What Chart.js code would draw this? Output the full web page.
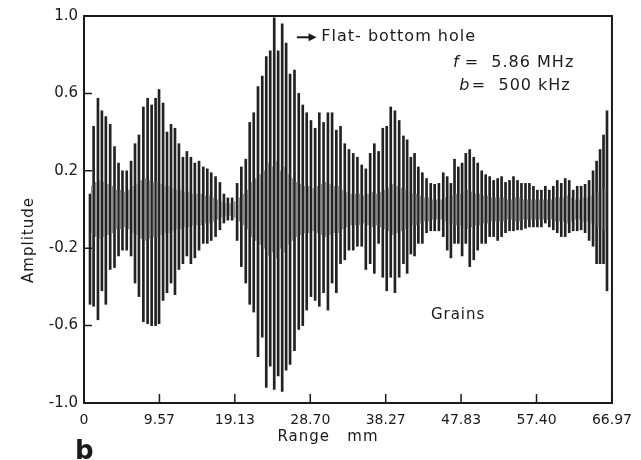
<!DOCTYPE html>
<html>
<head>
<meta charset="utf-8">
<script src="https://cdn.jsdelivr.net/npm/chart.js@4.4.1/dist/chart.umd.min.js"></script>
<style>
  body { margin: 0; background: #fff; }
  canvas { display: block; }
</style>
</head>
<body>
<canvas id="chart" width="641" height="460"></canvas>
<script>
// range of each echo stroke (mm) and its upper / lower amplitude
const range = [
  0.76, 1.22, 1.77, 2.27, 2.77, 3.32, 3.87, 4.38, 4.88, 5.42, 5.97, 6.47, 6.97, 7.53, 8.07, 8.58, 9.08,
  9.52, 10.03, 10.53, 11.04, 11.54, 12.04, 12.55, 13.05, 13.56, 14.06, 14.59, 15.13, 15.64, 16.14, 16.69, 17.24, 17.75, 18.25, 18.79,
  19.42, 19.96, 20.52, 21.02, 21.53, 22.07, 22.61, 23.12, 23.62, 24.13, 24.63, 25.14, 25.64, 26.14, 26.70, 27.24, 27.75, 28.25, 28.79,
  29.32, 29.85, 30.39, 30.94, 31.47, 32.01, 32.54, 33.08, 33.61, 34.15, 34.68, 35.23, 35.75, 36.30, 36.83, 37.37, 37.90,
  38.40, 38.91, 39.44, 39.98, 40.52, 40.99, 41.46, 41.93, 42.41, 42.92, 43.45, 43.98, 44.48, 45.02, 45.57, 46.07, 46.54, 47.00, 47.48, 47.96,
  48.43, 48.93, 49.44, 49.94, 50.45, 50.95, 51.46, 51.96, 52.47, 52.97, 53.47, 53.98, 54.48, 54.99, 55.49, 56.00, 56.50, 57.01, 57.51,
  58.02, 58.52, 59.02, 59.53, 60.03, 60.54, 61.04, 61.55, 62.05, 62.56, 63.06, 63.56, 64.07, 64.57, 65.02, 65.46, 65.90, 66.34
];
const upper = [
  0.08, 0.43, 0.575, 0.51, 0.48, 0.44, 0.325, 0.24, 0.20, 0.20, 0.25, 0.34, 0.385, 0.53, 0.575, 0.54, 0.575,
  0.62, 0.55, 0.40, 0.44, 0.42, 0.34, 0.27, 0.30, 0.27, 0.24, 0.25, 0.22, 0.21, 0.19, 0.17, 0.14, 0.08, 0.06, 0.06,
  0.135, 0.22, 0.26, 0.45, 0.50, 0.635, 0.69, 0.79, 0.82, 0.99, 0.82, 0.96, 0.86, 0.70, 0.72, 0.60, 0.54, 0.50, 0.46,
  0.42, 0.50, 0.45, 0.50, 0.50, 0.41, 0.43, 0.34, 0.31, 0.29, 0.27, 0.23, 0.21, 0.29, 0.34, 0.30, 0.42,
  0.43, 0.53, 0.51, 0.46, 0.38, 0.36, 0.27, 0.29, 0.22, 0.19, 0.16, 0.135, 0.13, 0.135, 0.19, 0.17, 0.135, 0.26, 0.22, 0.24,
  0.29, 0.31, 0.27, 0.24, 0.20, 0.18, 0.17, 0.15, 0.16, 0.17, 0.14, 0.15, 0.17, 0.15, 0.135, 0.135, 0.135, 0.12, 0.10,
  0.10, 0.12, 0.10, 0.12, 0.15, 0.135, 0.16, 0.15, 0.10, 0.12, 0.12, 0.13, 0.15, 0.20, 0.25, 0.31, 0.385, 0.51
];
const lower = [
  -0.49, -0.50, -0.57, -0.42, -0.49, -0.31, -0.30, -0.24, -0.21, -0.21, -0.24, -0.38, -0.45, -0.58, -0.59, -0.60, -0.60,
  -0.59, -0.47, -0.43, -0.38, -0.44, -0.31, -0.28, -0.24, -0.28, -0.25, -0.21, -0.175, -0.175, -0.16, -0.14, -0.105, -0.07, -0.055, -0.055,
  -0.16, -0.295, -0.38, -0.49, -0.53, -0.76, -0.66, -0.92, -0.81, -0.93, -0.86, -0.94, -0.83, -0.80, -0.73, -0.62, -0.60, -0.52, -0.45,
  -0.47, -0.50, -0.43, -0.52, -0.38, -0.43, -0.28, -0.26, -0.21, -0.21, -0.19, -0.19, -0.31, -0.28, -0.33, -0.175, -0.35,
  -0.42, -0.35, -0.43, -0.35, -0.28, -0.33, -0.23, -0.24, -0.175, -0.175, -0.12, -0.11, -0.11, -0.11, -0.14, -0.21, -0.25, -0.175, -0.175, -0.24,
  -0.175, -0.295, -0.26, -0.21, -0.175, -0.175, -0.14, -0.14, -0.16, -0.14, -0.12, -0.11, -0.11, -0.105, -0.105, -0.097, -0.09, -0.09, -0.09,
  -0.09, -0.07, -0.09, -0.105, -0.12, -0.14, -0.14, -0.12, -0.11, -0.11, -0.105, -0.12, -0.16, -0.19, -0.28, -0.28, -0.28, -0.42
];
// grain noise between the strokes (half height)
const noise = [
  0.12, 0.14, 0.15, 0.14, 0.13, 0.12, 0.10, 0.10, 0.09, 0.10, 0.12, 0.13, 0.15, 0.16, 0.15, 0.14, 0.14,
  0.13, 0.12, 0.12, 0.11, 0.10, 0.10, 0.09, 0.09, 0.08, 0.08, 0.08, 0.07, 0.07, 0.06, 0.05, 0.04, 0.03, 0.03, 0.04,
  0.06, 0.08, 0.10, 0.14, 0.16, 0.18, 0.20, 0.24, 0.22, 0.25, 0.20, 0.22, 0.18, 0.16, 0.14, 0.13, 0.12, 0.12, 0.11,
  0.12, 0.13, 0.14, 0.13, 0.12, 0.12, 0.10, 0.09, 0.08, 0.08, 0.08, 0.07, 0.08, 0.09, 0.08, 0.09, 0.10,
  0.11, 0.13, 0.12, 0.11, 0.10, 0.09, 0.08, 0.08, 0.07, 0.06, 0.06, 0.05, 0.05, 0.05, 0.06, 0.07, 0.07, 0.08, 0.08, 0.09,
  0.10, 0.09, 0.08, 0.08, 0.07, 0.07, 0.06, 0.06, 0.06, 0.06, 0.05, 0.05, 0.06, 0.06, 0.05, 0.05, 0.05, 0.05, 0.05,
  0.05, 0.05, 0.05, 0.06, 0.06, 0.06, 0.07, 0.06, 0.05, 0.05, 0.06, 0.06, 0.07, 0.08, 0.09, 0.10, 0.11
];

const xTicks = [0, 9.57, 19.13, 28.70, 38.27, 47.83, 57.40, 66.97];
const xTickLabels = ['0', '9.57', '19.13', '28.70', '38.27', '47.83', '57.40', '66.97'];
const yTicks = [-1.0, -0.6, -0.2, 0.2, 0.6, 1.0];
const yTickLabels = ['-1.0', '-0.6', '-0.2', '0.2', '0.6', '1.0'];

const ink = '#1a1a1a';
const font = 'DejaVu Sans';

const strokes = range.map((x, i) => ({ x: x, y: [lower[i], upper[i]] }));
const grain = noise.map((n, i) => ({ x: (range[i] + range[i + 1]) / 2, y: [-n, n] }));

function nearest(list, labels, v) {
  let best = 0;
  list.forEach((t, i) => { if (Math.abs(t - v) < Math.abs(list[best] - v)) best = i; });
  return labels[best];
}

const frame = {
  id: 'frame',
  afterDraw(chart) {
    const { ctx, chartArea: a, scales: { x, y } } = chart;
    ctx.save();
    ctx.strokeStyle = ink;
    ctx.lineWidth = 2;
    ctx.strokeRect(a.left, a.top, a.right - a.left, a.bottom - a.top);
    ctx.lineWidth = 1.5;
    ctx.beginPath();
    yTicks.forEach(v => {
      const py = y.getPixelForValue(v);
      ctx.moveTo(a.left, py);
      ctx.lineTo(a.left + 8, py);
    });
    xTicks.forEach(v => {
      const px = x.getPixelForValue(v);
      ctx.moveTo(px, a.bottom);
      ctx.lineTo(px, a.bottom - 9);
    });
    ctx.stroke();

    // arrow to the flat-bottom hole echo
    const ay = y.getPixelForValue(0.89);
    const ax0 = x.getPixelForValue(27.0);
    const ax1 = x.getPixelForValue(29.5);
    ctx.lineWidth = 2;
    ctx.beginPath();
    ctx.moveTo(ax0, ay);
    ctx.lineTo(ax1 - 5, ay);
    ctx.stroke();
    ctx.fillStyle = ink;
    ctx.beginPath();
    ctx.moveTo(ax1, ay);
    ctx.lineTo(ax1 - 8, ay - 4);
    ctx.lineTo(ax1 - 8, ay + 4);
    ctx.closePath();
    ctx.fill();

    ctx.textBaseline = 'middle';
    ctx.textAlign = 'left';
    ctx.letterSpacing = '1px';
    ctx.font = '16px "' + font + '"';
    ctx.fillText('Flat- bottom hole', x.getPixelForValue(30.1), ay);
    ctx.font = 'italic 16px "' + font + '"';
    ctx.fillText('f', x.getPixelForValue(46.8), y.getPixelForValue(0.76));
    ctx.fillText('b', x.getPixelForValue(47.6), y.getPixelForValue(0.64));
    ctx.font = '16px "' + font + '"';
    ctx.fillText('=  5.86 MHz', x.getPixelForValue(48.3), y.getPixelForValue(0.76));
    ctx.fillText('=  500 kHz', x.getPixelForValue(49.2), y.getPixelForValue(0.64));
    ctx.font = '15px "' + font + '"';
    ctx.fillText('Grains', x.getPixelForValue(44.0), y.getPixelForValue(-0.545));

    // axis titles and panel letter
    ctx.font = '15px "' + font + '"';
    ctx.textAlign = 'center';
    ctx.fillText('Range   mm', 328, 437);
    ctx.save();
    ctx.translate(29, 240);
    ctx.rotate(-Math.PI / 2);
    ctx.font = '15px "' + font + '"';
    ctx.fillText('Amplitude', 0, 0);
    ctx.restore();
    ctx.letterSpacing = '0px';
    ctx.font = 'bold 26px "' + font + '"';
    ctx.textAlign = 'left';
    ctx.textBaseline = 'alphabetic';
    ctx.fillText('b', 75, 459);
    ctx.restore();
  }
};

new Chart(document.getElementById('chart'), {
  type: 'bar',
  data: {
    datasets: [
      {
        data: grain,
        backgroundColor: '#8c8c8c',
        barThickness: 1,
        grouped: false,
        borderWidth: 0
      },
      {
        data: strokes,
        backgroundColor: '#222',
        barThickness: 2,
        grouped: false,
        borderWidth: 0
      }
    ]
  },
  options: {
    responsive: false,
    animation: false,
    layout: { padding: { top: 16, right: 26, left: 0, bottom: 0 } },
    plugins: { legend: { display: false }, tooltip: { enabled: false } },
    scales: {
      x: {
        type: 'linear',
        min: 0,
        max: 66.97,
        offset: false,
        grid: { display: false, drawTicks: false },
        border: { display: false },
        afterBuildTicks: s => { s.ticks = xTicks.map(v => ({ value: v })); },
        afterFit: s => { s.height = 57; },
        ticks: {
          padding: 9,
          maxRotation: 0,
          color: ink,
          font: { family: font, size: 14 },
          callback: v => nearest(xTicks, xTickLabels, v)
        }
      },
      y: {
        min: -1,
        max: 1,
        grid: { display: false, drawTicks: false },
        border: { display: false },
        afterBuildTicks: s => { s.ticks = yTicks.map(v => ({ value: v })); },
        afterFit: s => { s.width = 84; },
        ticks: {
          padding: 6,
          color: ink,
          font: { family: font, size: 15 },
          callback: v => nearest(yTicks, yTickLabels, v)
        }
      }
    }
  },
  plugins: [frame]
});
</script>
</body>
</html>
